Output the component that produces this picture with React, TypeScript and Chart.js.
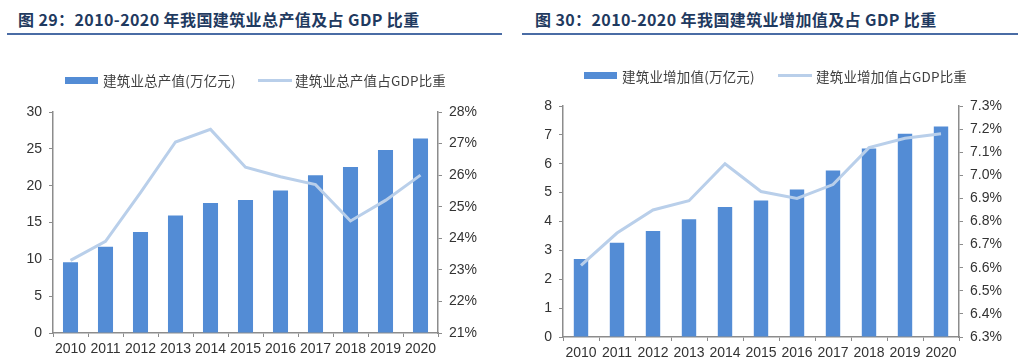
import React, { useEffect, useRef } from "react";
import { Chart, registerables } from "chart.js";

Chart.register(...registerables);

const years = ["2010", "2011", "2012", "2013", "2014", "2015", "2016", "2017", "2018", "2019", "2020"];

// Left chart: total output value of construction (trillion yuan) and share of GDP (%)
const outputValue = [9.6, 11.7, 13.7, 15.95, 17.65, 18.05, 19.35, 21.4, 22.55, 24.85, 26.4];
const outputShare = [23.3, 23.9, 25.45, 27.05, 27.45, 26.25, 25.95, 25.7, 24.55, 25.2, 26.0];

// Right chart: value added of construction (trillion yuan) and share of GDP (%)
const addedValue = [2.7, 3.26, 3.67, 4.08, 4.5, 4.73, 5.11, 5.77, 6.53, 7.04, 7.29];
const addedShare = [6.61, 6.75, 6.85, 6.89, 7.05, 6.93, 6.9, 6.96, 7.12, 7.16, 7.18];

const leftTitle = "图 29：2010-2020 年我国建筑业总产值及占 GDP 比重";
const rightTitle = "图 30：2010-2020 年我国建筑业增加值及占 GDP 比重";
const leftLegend = ["建筑业总产值(万亿元)", "建筑业总产值占GDP比重"];
const rightLegend = ["建筑业增加值(万亿元)", "建筑业增加值占GDP比重"];

const BAR = "#538cd5";
const LINE = "#b9cfea";
const AXIS = "#8c8c8c";
const TICK_FONT = { family: "'Liberation Sans', Arial, sans-serif", size: 14 };
const TICK_COLOR = "#333333";

type Cfg = {
  bars: number[];
  line: number[];
  yMin: number;
  yMax: number;
  yStep: number;
  rMin: number;
  rMax: number;
  rStep: number;
  rDigits: number;
  leftW: number;
  rightW: number;
  padTop: number;
  xH: number;
  barPct: number;
  labels: string[];
};

function makeChart(canvas: HTMLCanvasElement, c: Cfg) {
  return new Chart(canvas, {
    type: "bar",
    data: {
      labels: years,
      datasets: [
        {
          type: "line",
          label: c.labels[1],
          data: c.line,
          yAxisID: "y1",
          borderColor: LINE,
          backgroundColor: LINE,
          borderWidth: 3,
          pointRadius: 0,
          tension: 0,
          order: 0,
        } as any,
        {
          type: "bar",
          label: c.labels[0],
          data: c.bars,
          yAxisID: "y",
          backgroundColor: BAR,
          borderWidth: 0,
          categoryPercentage: 1,
          barPercentage: c.barPct,
          order: 1,
        },
      ],
    },
    options: {
      animation: false,
      responsive: false,
      maintainAspectRatio: false,
      layout: { padding: { top: c.padTop, left: 0, right: 0, bottom: 0 } },
      plugins: { legend: { display: false }, tooltip: { enabled: false } },
      scales: {
        x: {
          offset: true,
          grid: {
            offset: true,
            drawOnChartArea: false,
            drawTicks: true,
            tickLength: 4,
            color: AXIS,
          },
          border: { color: AXIS, width: 1.5 },
          ticks: { font: TICK_FONT, color: TICK_COLOR, padding: 4, maxRotation: 0, autoSkip: false },
          afterFit: (s: any) => {
            s.height = c.xH;
          },
        },
        y: {
          position: "left",
          min: c.yMin,
          max: c.yMax,
          ticks: { stepSize: c.yStep, font: TICK_FONT, color: TICK_COLOR, padding: 7 },
          grid: { drawOnChartArea: false, drawTicks: true, tickLength: 4, color: AXIS },
          border: { color: AXIS, width: 1.5 },
          afterFit: (s: any) => {
            s.width = c.leftW;
          },
        },
        y1: {
          position: "right",
          min: c.rMin,
          max: c.rMax,
          ticks: {
            stepSize: c.rStep,
            font: TICK_FONT,
            color: TICK_COLOR,
            padding: 7,
            callback: (v: any) => Number(v).toFixed(c.rDigits) + "%",
          },
          grid: { drawOnChartArea: false, drawTicks: true, tickLength: 4, color: AXIS },
          border: { color: AXIS, width: 1.5 },
          afterFit: (s: any) => {
            s.width = c.rightW;
          },
        },
      },
    },
  } as any);
}

const titleStyle = (left: number): React.CSSProperties => ({
  position: "absolute",
  left,
  top: 8,
  fontFamily: "'Noto Sans CJK SC', sans-serif",
  fontWeight: 700,
  fontSize: 16,
  letterSpacing: 0.4,
  lineHeight: "22px",
  color: "#1f3a60",
  whiteSpace: "nowrap",
});

const ruleStyle = (left: number, width: number): React.CSSProperties => ({
  position: "absolute",
  left,
  top: 33,
  width,
  height: 2,
  background: "#4a6ca5",
});

const legText: React.CSSProperties = {
  position: "absolute",
  fontFamily: "'Noto Sans CJK SC', sans-serif",
  fontSize: 13.5,
  letterSpacing: 0.2,
  lineHeight: "18px",
  color: "#404040",
  whiteSpace: "nowrap",
};

function Legend(props: { y: number; barX: number; textX: number; lineX: number; lineTextX: number; labels: string[] }) {
  const { y, barX, textX, lineX, lineTextX, labels } = props;
  return (
    <>
      <div style={{ position: "absolute", left: barX, top: y - 3.5, width: 33, height: 7, background: BAR }} />
      <div style={{ ...legText, left: textX, top: y - 9 }}>{labels[0]}</div>
      <div style={{ position: "absolute", left: lineX, top: y - 1.5, width: 34, height: 3, background: LINE }} />
      <div style={{ ...legText, left: lineTextX, top: y - 9 }}>{labels[1]}</div>
    </>
  );
}

export default function App() {
  const leftRef = useRef<HTMLCanvasElement>(null);
  const rightRef = useRef<HTMLCanvasElement>(null);

  useEffect(() => {
    document.body.style.margin = "0";
    const a = makeChart(leftRef.current!, {
      bars: outputValue,
      line: outputShare,
      yMin: 0,
      yMax: 30,
      yStep: 5,
      rMin: 21,
      rMax: 28,
      rStep: 1,
      rDigits: 0,
      leftW: 53,
      rightW: 72,
      padTop: 72,
      xH: 31,
      barPct: 0.43,
      labels: leftLegend,
    });
    const b = makeChart(rightRef.current!, {
      bars: addedValue,
      line: addedShare,
      yMin: 0,
      yMax: 8,
      yStep: 1,
      rMin: 6.3,
      rMax: 7.3,
      rStep: 0.1,
      rDigits: 1,
      leftW: 47,
      rightW: 67,
      padTop: 66,
      xH: 27,
      barPct: 0.4,
      labels: rightLegend,
    });
    return () => {
      a.destroy();
      b.destroy();
    };
  }, []);

  return (
    <div style={{ position: "absolute", left: 0, top: 0, width: 1026, height: 364, background: "#ffffff", overflow: "hidden" }}>
      <div style={titleStyle(18)}>{leftTitle}</div>
      <div style={ruleStyle(7, 495)} />
      <div style={titleStyle(535)}>{rightTitle}</div>
      <div style={ruleStyle(522, 496)} />

      <canvas ref={leftRef} width={510} height={324} style={{ position: "absolute", left: 0, top: 40, width: 510, height: 324 }} />
      <canvas ref={rightRef} width={510} height={324} style={{ position: "absolute", left: 516, top: 40, width: 510, height: 324 }} />

      <Legend y={80} barX={65} textX={103} lineX={258} lineTextX={295} labels={leftLegend} />
      <Legend y={75.5} barX={584} textX={622} lineX={778} lineTextX={816} labels={rightLegend} />
    </div>
  );
}
